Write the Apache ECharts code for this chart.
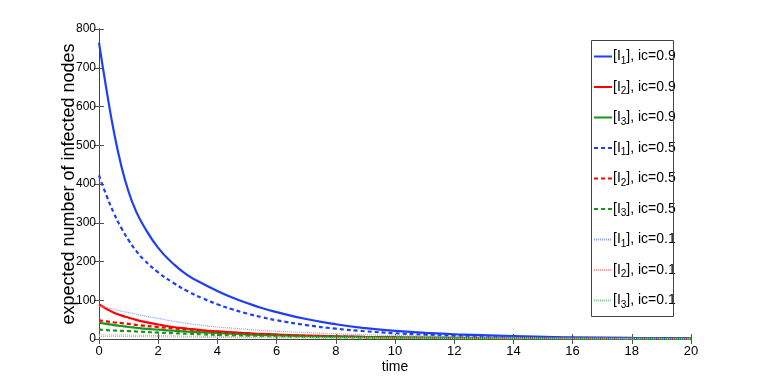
<!DOCTYPE html>
<html>
<head>
<meta charset="utf-8">
<script src="https://cdn.jsdelivr.net/npm/echarts@6/dist/echarts.min.js"></script>
<style>html,body{margin:0;padding:0;background:#fff}#c{width:763px;height:382px}</style>
</head>
<body>
<div id="c"></div>
<script>
const time    = [0,0.25,0.5,0.75,1,1.25,1.5,2,2.5,3,3.5,4,4.5,5,5.5,6,7,8,9,10,11,12,14,16,18,20];
const I1_ic09 = [765,645,536,448,380,330,293,235,195,164,143,124,107,93,80,69.5,51.5,38,28,21,16,12.2,7.2,4.5,2.8,1.8];
const I2_ic09 = [89,78,68,61,55,49.5,45,37.5,31,26.5,22.5,19.5,17,15,13,11.5,9,7,5.5,4.4,3.5,2.8,1.8,1.1,0.7,0.5];
const I3_ic09 = [42,39,36,33.5,31,29,27,24,21.5,19,17,15.5,13.5,12,10.5,9.5,7.5,6,4.8,3.8,3,2.4,1.5,1,0.6,0.4];
const I1_ic05 = [422,371,325,287,255,228,206,172,145.5,123,105,89.6,76.7,65.7,56.3,48.4,35.9,26.7,19.9,14.9,11.1,8.3,4.7,2.7,1.5,0.86];
const I2_ic05 = [48,45.5,43,41,39,36.5,34.5,31,27.5,24.5,21.5,18.5,16,14,12,10.5,8,6.3,5,4,3.2,2.5,1.6,1,0.6,0.4];
const I3_ic05 = [24,23,22,21.2,20.5,19.5,18.5,16.5,15,13.5,12,10.5,9.5,8.5,7.7,7,5.5,4.5,3.6,3,2.4,2,1.2,0.8,0.5,0.3];
const I1_ic01 = [85,81,77,72,68,64,60,53,46,40,35,31,28,25,22,20,16.5,13.5,11,9,7.3,6,4,2.6,1.7,1.1];
const I2_ic01 = [11,10.8,10.5,10.2,10,9.7,9.4,8.8,8.2,7.6,7,6.5,6,5.6,5.2,4.8,4.1,3.5,3,2.6,2.2,1.9,1.4,1,0.7,0.5];
const I3_ic01 = [7,6.9,6.7,6.5,6.3,6.1,5.9,5.5,5.1,4.8,4.4,4.1,3.8,3.5,3.3,3,2.6,2.2,1.9,1.6,1.4,1.2,0.9,0.6,0.45,0.3];
const xTicks = [0,2,4,6,8,10,12,14,16,18,20];
const yTicks = [0,100,200,300,400,500,600,700,800];

const seriesDefs = [
  {name:'[I{s|1}], ic=0.9', data:I1_ic09, color:'#1f3ff5', type:'solid', width:2.2},
  {name:'[I{s|2}], ic=0.9', data:I2_ic09, color:'#ff0000', type:'solid', width:2.2},
  {name:'[I{s|3}], ic=0.9', data:I3_ic09, color:'#1a961a', type:'solid', width:2.2},
  {name:'[I{s|1}], ic=0.5', data:I1_ic05, color:'#1f3ff5', type:[4,3], width:2.2},
  {name:'[I{s|2}], ic=0.5', data:I2_ic05, color:'#ff0000', type:[4,3], width:2.2},
  {name:'[I{s|3}], ic=0.5', data:I3_ic05, color:'#1a961a', type:[4,3], width:2.2},
  {name:'[I{s|1}], ic=0.1', data:I1_ic01, color:'#8a9cff', type:[1,1], width:1.2},
  {name:'[I{s|2}], ic=0.1', data:I2_ic01, color:'#ff9a9a', type:[1,1], width:1.2},
  {name:'[I{s|3}], ic=0.1', data:I3_ic01, color:'#88cc88', type:[1,1], width:1.2}
];

const FONT = "'Liberation Sans Narrow','Liberation Sans',Arial,sans-serif";
const chart = echarts.init(document.getElementById('c'), null, {renderer:'canvas'});
const axisLine = {show:true, lineStyle:{color:'#444', width:1}};
const tick = {show:true, inside:true, length:5, lineStyle:{color:'#555'}};
chart.setOption({
  animation:false,
  backgroundColor:'#fff',
  grid:{left:99, right:72, top:29, bottom:43, containLabel:false},
  xAxis:[
    {type:'value', min:xTicks[0], max:xTicks[xTicks.length-1], interval:2, position:'bottom',
     axisLine:axisLine, axisTick:tick, splitLine:{show:false},
     axisLabel:{color:'#000', fontSize:13, fontFamily:FONT, margin:6},
     name:'time', nameLocation:'middle', nameGap:21, nameMoveOverlap:false,
     nameTextStyle:{color:'#000', fontSize:14, fontFamily:FONT}},
    {type:'value', min:xTicks[0], max:xTicks[xTicks.length-1], interval:2, position:'top',
     axisLine:axisLine, axisTick:tick, splitLine:{show:false}, axisLabel:{show:false}}
  ],
  yAxis:[
    {type:'value', min:yTicks[0], max:yTicks[yTicks.length-1], interval:100, position:'left',
     axisLine:axisLine, axisTick:tick, splitLine:{show:false},
     axisLabel:{color:'#000', fontSize:12, fontFamily:FONT, margin:3},
     name:'expected number of infected nodes', nameLocation:'middle', nameGap:21, nameMoveOverlap:false,
     nameTextStyle:{color:'#000', fontSize:18, fontFamily:FONT}},
    {type:'value', min:yTicks[0], max:yTicks[yTicks.length-1], interval:100, position:'right',
     axisLine:axisLine, axisTick:tick, splitLine:{show:false}, axisLabel:{show:false}}
  ],
  legend:{
    orient:'vertical', left:593, top:47, itemWidth:18, itemHeight:14, itemGap:11.5,
    padding:0,
    itemStyle:{opacity:0},
    textStyle:{color:'#000', fontSize:14, fontFamily:FONT, lineHeight:16, padding:[0,0,0,-4],
      rich:{s:{fontSize:10, fontFamily:FONT, padding:[9,0,0,0], lineHeight:16}}},
    data: seriesDefs.map(d=>({name:d.name}))
  },
  graphic:[{type:'rect', shape:{x:591.5, y:40.5, width:82, height:276},
    style:{fill:null, stroke:'#444', lineWidth:1}, z:100}],
  series: seriesDefs.map(d=>({
    name:d.name, type:'line', smooth:true, showSymbol:false, symbol:'none',
    xAxisIndex:0, yAxisIndex:0,
    data: time.map((t,i)=>[t, d.data[i]]),
    lineStyle:{color:d.color, width:d.width, type:d.type},
    itemStyle:{color:d.color}
  }))
});
</script>
</body>
</html>
